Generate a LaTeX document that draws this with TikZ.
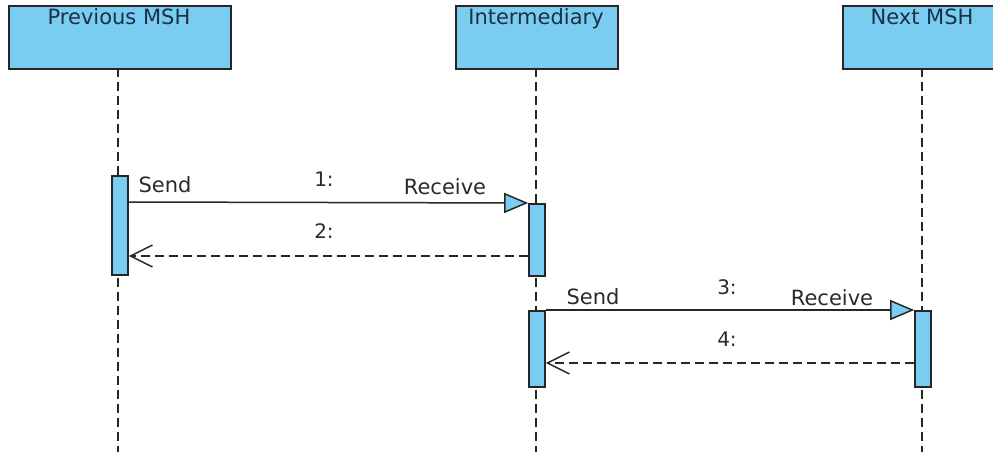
\documentclass[tikz,border=0pt]{standalone}
\usepackage{fontspec}
\setmainfont{DejaVu Sans}
\usetikzlibrary{arrows.meta}
\definecolor{lblue}{HTML}{7ACCF0}
\definecolor{hdtext}{HTML}{1A3048}
\definecolor{lbl}{HTML}{2A2A2A}
\begin{document}
\begin{tikzpicture}[x=1pt,y=-1pt,
  head/.style={draw=black!85,fill=lblue,line width=2pt,minimum height=63pt,inner sep=0pt},
  htext/.style={font=\fontsize{21}{24}\selectfont,text=hdtext},
  bar/.style={draw=black!85,fill=lblue,line width=1.6pt,minimum width=16pt,inner sep=0pt},
  life/.style={draw=black!85,line width=1.8pt,dash pattern=on 9pt off 5pt},
  sync/.style={draw=black!85,line width=1.5pt,-{Triangle[length=24pt,width=20pt,fill=lblue,line width=1.5pt]}},
  reply/.style={draw=black!85,line width=1.5pt,dash pattern=on 9pt off 5pt,-{Straight Barb[length=22pt,width=22pt,line width=1.5pt]}},
  msg/.style={font=\fontsize{21}{24}\selectfont,text=lbl},
  num/.style={font=\fontsize{20}{22}\selectfont,text=lbl}]
\useasboundingbox (0,0) rectangle (993,452);
% lifelines
\draw[life] (118,68) -- (118,452);
\draw[life] (536,68) -- (536,452);
\draw[life] (922,68) -- (922,452);
% heads
\node[head,minimum width=222pt,anchor=north west] (prev) at (8,5) {};
\node[htext,anchor=north] (prevt) at (119,5) {Previous MSH};
\node[head,minimum width=162pt,anchor=north west] (inter) at (455,5) {};
\node[htext,anchor=north] (intert) at (536,5) {Intermediary};
\node[head,minimum width=160pt,anchor=north west] (next) at (842,5) {};
\node[htext,anchor=north] (nextt) at (922,5) {Next MSH};
% activation bars
\node[bar,minimum height=99pt,anchor=north] (b1) at (120,175) {};
\node[bar,minimum height=72pt,anchor=north] (b2) at (537,203) {};
\node[bar,minimum height=76pt,anchor=north] (b3) at (537,310) {};
\node[bar,minimum height=76pt,anchor=north] (b4) at (923,310) {};
% messages
\coordinate (m1s) at (b1.east |- 0,202);
\coordinate (m1e) at (b2.north west);
\draw[sync] (m1s) -- (m1e);
\coordinate (m2s) at (b2.west |- 0,256);
\coordinate (m2e) at (b1.east |- 0,256);
\draw[reply] (m2s) -- (m2e);
\coordinate (m3s) at (b3.north east);
\coordinate (m3e) at (b4.north west);
\draw[sync] (m3s) -- (m3e);
\coordinate (m4s) at (b4.west |- 0,363);
\coordinate (m4e) at (b3.east |- 0,363);
\draw[reply] (m4s) -- (m4e);
% labels
\node[msg] (s1) at (165,185) {Send};
\node[msg] (r1) at (445,187) {Receive};
\node[num] (n1) at (324,179) {1:};
\node[num] (n2) at (324,231) {2:};
\node[msg] (s3) at (593,297) {Send};
\node[msg] (r3) at (832,298) {Receive};
\node[num] (n3) at (727,287) {3:};
\node[num] (n4) at (727,339) {4:};
\end{tikzpicture}
\end{document}
